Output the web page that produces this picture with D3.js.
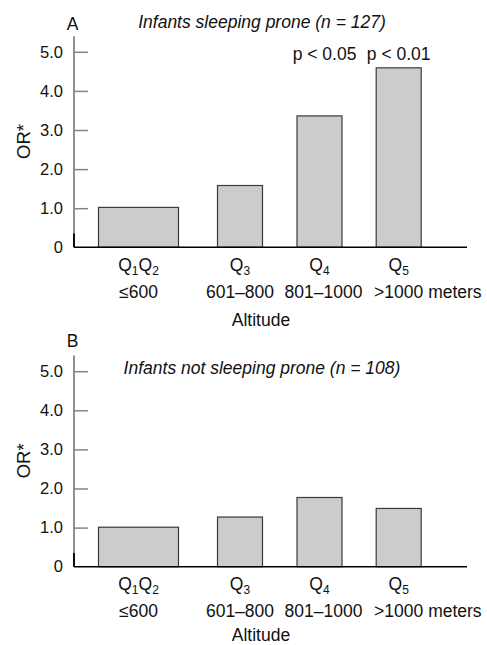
<!DOCTYPE html>
<html><head><meta charset="utf-8">
<script src="https://cdn.jsdelivr.net/npm/d3@7"></script>
<style>body{margin:0;background:#fff}svg{display:block}text{font-family:"Liberation Sans",Arial,sans-serif;fill:#111}</style>
</head><body><svg id="c" width="487" height="645"></svg>
<script>
const categories = ["Q1Q2","Q3","Q4","Q5"];
const qMain = ["Q","Q","Q","Q"];
const qSubs = [["1","2"],["3"],["4"],["5"]];
const ranges = ["≤600","601–800","801–1000",">1000"];
const unitLabel = " meters";
const valuesA = [1.02, 1.58, 3.36, 4.59];
const valuesB = [1.01, 1.27, 1.77, 1.49];
const pLabelsA = ["", "", "p < 0.05", "p < 0.01"];
const pLabelsB = ["", "", "", ""];
const yTicks = [0, 1, 2, 3, 4, 5];
const panels = [
  {letter:"A", title:"Infants sleeping prone (n = 127)", values:valuesA, pLabels:pLabelsA},
  {letter:"B", title:"Infants not sleeping prone (n = 108)", values:valuesB, pLabels:pLabelsB}
];

const svg = d3.select("#c");
const FS = 17.5;
const x = d3.scaleLinear().domain([0,1,2,3]).range([138.5, 240, 319.5, 398.7]);
const barW = i => i === 0 ? 80 : 45;
const axisX = 74, axisEnd = 467;

panels.forEach((p, pi) => {
  const off = pi * 319.4;
  const y0 = 247.3 + off;
  const y = d3.scaleLinear().domain([0, 5.4]).range([y0, y0 - 5.4*39.1]);
  const g = svg.append("g");

  const ax = d3.axisLeft(y).tickValues(yTicks.filter(t=>t>0)).tickSize(-14).tickPadding(11)
    .tickFormat(d3.format(".1f"));
  const ag = g.append("g").attr("transform", `translate(${axisX},0)`).call(ax);
  ag.select(".domain").attr("stroke", "#858585").attr("stroke-width", 1.8).attr("d", `M0,${y(5.4)}V${y(0)}`);
  ag.selectAll(".tick line").attr("stroke", "#858585").attr("stroke-width", 1.5);
  ag.selectAll(".tick text").attr("font-size", 16.5).attr("fill", "#111").attr("font-family", "Liberation Sans, Arial, sans-serif");
  g.append("text").attr("x", axisX - 11).attr("y", y(0)).attr("dy", "0.32em")
    .attr("text-anchor", "end").attr("font-size", 16.5).text(d3.format("d")(yTicks[0]));
  g.append("line").attr("x1", axisX).attr("x2", axisX).attr("y1", y(0)).attr("y2", y(0.35))
    .attr("stroke", "#000").attr("stroke-width", 1.8);

  g.selectAll("rect.bar").data(p.values).join("rect")
    .attr("x", (d,i) => x(i) - barW(i)/2)
    .attr("width", (d,i) => barW(i))
    .attr("y", d => y(d))
    .attr("height", d => y(0) - y(d))
    .attr("fill", "#cccccc").attr("stroke", "#3a3a3a").attr("stroke-width", 1.2);

  g.append("line").attr("x1", axisX).attr("x2", axisEnd).attr("y1", y(0)).attr("y2", y(0))
    .attr("stroke", "#000").attr("stroke-width", 1.5);

  p.pLabels.forEach((lab, i) => {
    if (!lab) return;
    g.append("text").attr("x", x(i) + (i===2 ? 5 : 0)).attr("y", 60 + off)
      .attr("text-anchor", "middle").attr("font-size", FS).text(lab);
  });

  categories.forEach((c, i) => {
    const t = g.append("text").attr("x", x(i)).attr("y", 271 + off)
      .attr("text-anchor", "middle").attr("font-size", FS);
    qSubs[i].forEach((s, k) => {
      t.append("tspan").text(qMain[i]).attr("dy", k === 0 ? 0 : -4);
      t.append("tspan").text(s).attr("font-size", 12).attr("dy", 4);
    });
  });
  ranges.forEach((r, i) => {
    if (i === ranges.length - 1) {
      const t = g.append("text").attr("y", 298 + off).attr("font-size", FS).attr("text-anchor", "start");
      const t1 = t.append("tspan").text(r);
      t.append("tspan").text(unitLabel);
      const w = t1.node().getComputedTextLength();
      t.attr("x", x(i) - w/2);
    } else {
      g.append("text").attr("x", x(i) + (i===2 ? 4 : 0)).attr("y", 298 + off)
        .attr("text-anchor", "middle").attr("font-size", FS).text(r);
    }
  });
  g.append("text").attr("x", 261).attr("y", (pi===0 ? 326 : 641)).attr("text-anchor", "middle")
    .attr("font-size", FS).text("Altitude");

  g.append("text").attr("x", 72.7).attr("y", (pi===0 ? 30 : 347) ).attr("text-anchor", "middle")
    .attr("font-size", FS).text(p.letter);
  g.append("text").attr("x", 262).attr("y", (pi===0 ? 28 : 374)).attr("text-anchor", "middle")
    .attr("font-size", FS).attr("font-style", "italic").text(p.title);

  g.append("text").attr("transform", `translate(30,${141.5 + off}) rotate(-90)`)
    .attr("text-anchor", "middle").attr("font-size", 18.5).text("OR*");
});
</script></body></html>
